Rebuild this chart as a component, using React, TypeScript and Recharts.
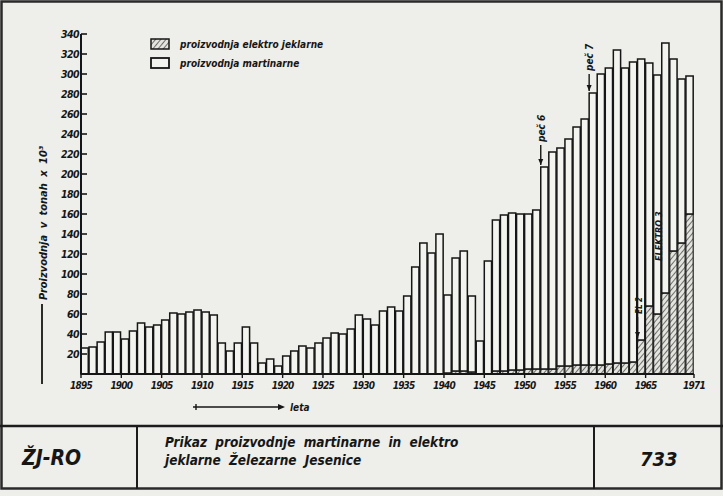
import { Bar, BarChart, ReferenceLine, XAxis, YAxis } from "recharts";

// production in tons x 10^3, one bar per year from 1895 to 1970
const firstYear = 1895;

const totalOutput = [
  26, 27, 32, 42, 42, 35, 43, 51, 47, 49,
  54, 61, 60, 62, 64, 62, 59, 31, 23, 31,
  47, 31, 11, 15, 8, 18, 23, 28, 26, 31,
  36, 41, 40, 45, 59, 55, 49, 63, 67, 63,
  78, 107, 131, 121, 140, 79, 116, 123, 78, 33,
  113, 154, 159, 161, 160, 160, 164, 207, 222, 226,
  235, 247, 255, 281, 300, 306, 324, 306, 312, 315,
  311, 299, 331, 315, 295, 298,
];

const elektroOutput = [
  0, 0, 0, 0, 0, 0, 0, 0, 0, 0,
  0, 0, 0, 0, 0, 0, 0, 0, 0, 0,
  0, 0, 0, 0, 0, 0, 0, 0, 0, 0,
  0, 0, 0, 0, 0, 0, 0, 0, 0, 0,
  0, 0, 0, 0, 0, 1, 3, 3, 2, 0,
  0, 3, 3, 4, 4, 5, 5, 5, 5, 8,
  8, 9, 9, 9, 9, 10, 11, 11, 12, 34,
  68, 60, 81, 123, 131, 160,
];

const xTicks = [1895, 1900, 1905, 1910, 1915, 1920, 1925, 1930, 1935, 1940, 1945, 1950, 1955, 1960, 1965, 1971];
const yTicks = [20, 40, 60, 80, 100, 120, 140, 160, 180, 200, 220, 240, 260, 280, 300, 320, 340];

const legendItems = ["proizvodnja elektro jeklarne", "proizvodnja martinarne"];

// furnace start-up markers: [year boundary, from value, to value, text]
const markers: [number, number, number, string][] = [
  [1952, 229, 209, "peč 6"],
  [1958, 300, 283, "peč 7"],
  [1964, 57, 36, "EL 2"],
];

const rows = totalOutput.map((total, i) => ({
  x: firstYear + i + 0.5,
  elektro: elektroOutput[i],
  martin: total - elektroOutput[i],
}));

const BG = "#eeeeea";
const INK = "#161616";
const FONT = "'DejaVu Sans Condensed', 'DejaVu Sans', sans-serif";

function YTick(props: any) {
  const { x, y, payload } = props;
  return (
    <g>
      <line x1={x} x2={x + 6} y1={y} y2={y} stroke={INK} strokeWidth={1.6} />
      <text
        x={x - 2}
        y={y + 4}
        textAnchor="end"
        fontSize={10.5}
        fontWeight="bold"
        fontStyle="italic"
        fill={INK}
        fontFamily={FONT}
        letterSpacing={-0.6}
      >
        {payload.value}
      </text>
    </g>
  );
}

function XTick(props: any) {
  const { x, y, payload } = props;
  return (
    <text
      x={x}
      y={y + 9}
      textAnchor="middle"
      fontSize={10}
      fontWeight="bold"
      fontStyle="italic"
      fill={INK}
      fontFamily={FONT}
      letterSpacing={-0.8}
    >
      {payload.value}
    </text>
  );
}

function pointer(text: string, small: boolean) {
  return (p: any) => {
    const { x1, y1, x2, y2 } = p;
    return (
      <g>
        <line x1={x1} y1={y1} x2={x2} y2={y2} stroke={INK} strokeWidth={1.4} />
        <path d={`M${x2 - 2.5},${y2 - 6} L${x2 + 2.5},${y2 - 6} L${x2},${y2} Z`} fill={INK} />
        <text
          transform={`translate(${x1 + 4},${y1 - 3}) rotate(-90)`}
          fontSize={small ? 8 : 10}
          fontWeight="bold"
          fontStyle="italic"
          fill={INK}
          fontFamily={FONT}
        >
          {text}
        </text>
      </g>
    );
  };
}

function elektroNote(p: any) {
  const { x1, y1 } = p;
  return (
    <text
      transform={`translate(${x1 + 4},${y1}) rotate(-90)`}
      fontSize={9}
      fontWeight="bold"
      fontStyle="italic"
      fill={INK}
      fontFamily={FONT}
    >
      ELEKTRO 3
    </text>
  );
}

export default function App() {
  const plotWidth = 723 - 81 - 29;
  const barSize = plotWidth / totalOutput.length;
  const textStyle = {
    fontFamily: FONT,
    fontWeight: "bold" as const,
    fontStyle: "italic" as const,
    fill: INK,
  };

  return (
    <div
      style={{
        position: "fixed",
        left: 0,
        top: 0,
        width: 723,
        height: 496,
        background: BG,
        overflow: "hidden",
      }}
    >
      <BarChart
        width={723}
        height={496}
        data={rows}
        margin={{ top: 34, right: 29, bottom: 102, left: 21 }}
        barCategoryGap={0}
        barGap={0}
      >
        <defs>
          <pattern id="hatch" patternUnits="userSpaceOnUse" width={4} height={4} patternTransform="rotate(40)">
            <rect width={4} height={4} fill="#e4e4df" />
            <line x1={0} y1={0} x2={0} y2={4} stroke="#3a3a3a" strokeWidth={1.4} />
          </pattern>
        </defs>
        <XAxis
          type="number"
          dataKey="x"
          domain={[1895, 1971]}
          ticks={xTicks}
          interval={0}
          height={20}
          axisLine={{ stroke: INK, strokeWidth: 2 }}
          tickLine={{ stroke: INK, strokeWidth: 1.4 }}
          tickSize={4}
          tick={<XTick />}
        />
        <YAxis
          domain={[0, 340]}
          ticks={yTicks}
          interval={0}
          width={60}
          axisLine={{ stroke: INK, strokeWidth: 2 }}
          tickLine={false}
          tickSize={0}
          tickMargin={0}
          tick={<YTick />}
        />
        <Bar
          dataKey="elektro"
          stackId="p"
          fill="url(#hatch)"
          stroke={INK}
          strokeWidth={1.1}
          barSize={barSize}
          isAnimationActive={false}
        />
        <Bar
          dataKey="martin"
          stackId="p"
          fill="#f3f3ef"
          stroke={INK}
          strokeWidth={1.5}
          barSize={barSize}
          isAnimationActive={false}
        />
        {markers.map(([year, from, to, text]) => (
          <ReferenceLine
            key={text}
            segment={[
              { x: year, y: from },
              { x: year, y: to },
            ]}
            shape={pointer(text, to < 100)}
          />
        ))}
        <ReferenceLine
          segment={[
            { x: 1966.5, y: 113 },
            { x: 1966.5, y: 112 },
          ]}
          shape={elektroNote}
        />
      </BarChart>

      <svg
        width={723}
        height={496}
        style={{ position: "absolute", left: 0, top: 0, pointerEvents: "none" }}
      >
        {/* frame and title block */}
        <rect x={1.5} y={1.5} width={720} height={487} fill="none" stroke="#2a2a2a" strokeWidth={2.5} />
        <line x1={0} x2={723} y1={426} y2={426} stroke="#1c1c1c" strokeWidth={2.5} />
        <line x1={137} x2={137} y1={426} y2={489} stroke="#1c1c1c" strokeWidth={2} />
        <line x1={594} x2={594} y1={426} y2={489} stroke="#1c1c1c" strokeWidth={2} />
        <text x={22} y={465} fontSize={21} {...textStyle}>
          ŽJ-RO
        </text>
        <text x={165} y={447} fontSize={13.5} {...textStyle} wordSpacing={4}>
          Prikaz proizvodnje martinarne in elektro
        </text>
        <text x={165} y={465} fontSize={13.5} {...textStyle} wordSpacing={4}>
          jeklarne Železarne Jesenice
        </text>
        <text x={640} y={466} fontSize={20} {...textStyle}>
          733
        </text>

        {/* legend */}
        <rect x={151} y={39} width={18} height={10} fill="url(#hatch)" stroke={INK} strokeWidth={1.5} />
        <rect x={151} y={58} width={18} height={10} fill="#f3f3ef" stroke={INK} strokeWidth={1.8} />
        <text x={180} y={48} fontSize={10} {...textStyle}>
          {legendItems[0]}
        </text>
        <text x={180} y={67} fontSize={10} {...textStyle}>
          {legendItems[1]}
        </text>

        {/* axis titles */}
        <line x1={42} x2={42} y1={384} y2={304} stroke={INK} strokeWidth={1.8} />
        <text transform="translate(47,300) rotate(-90)" fontSize={11} {...textStyle} wordSpacing={3}>
          Proizvodnja v tonah x 10³
        </text>
        <line x1={193} x2={280} y1={407} y2={407} stroke={INK} strokeWidth={1.6} />
        <line x1={196} x2={196} y1={404} y2={410} stroke={INK} strokeWidth={1.4} />
        <path d="M278,404 L285,407 L278,410 Z" fill={INK} />
        <text x={290} y={411} fontSize={10} {...textStyle}>
          leta
        </text>
      </svg>
    </div>
  );
}
